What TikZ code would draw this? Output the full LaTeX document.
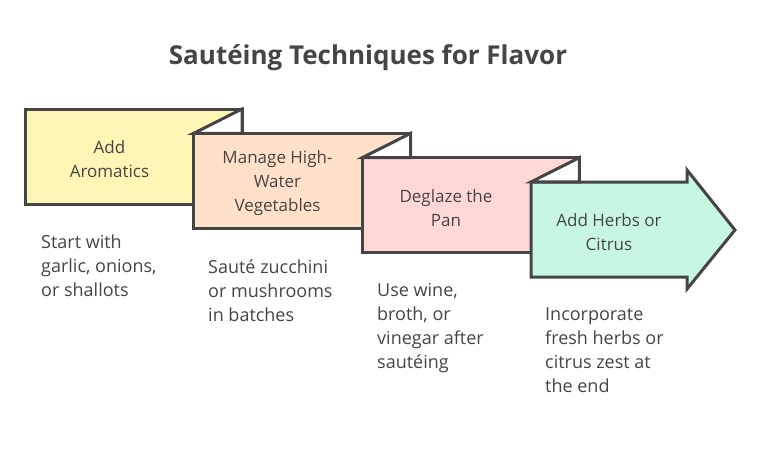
\documentclass[tikz,border=0pt]{standalone}
\usepackage{fontspec}
\setmainfont{Open Sans}
\definecolor{inkgray}{HTML}{454545}
\definecolor{aromafill}{HTML}{FFF6B5}
\definecolor{waterfill}{HTML}{FFE1C9}
\definecolor{glazefill}{HTML}{FFD7D5}
\definecolor{herbfill}{HTML}{C7F7E1}
\tikzset{
  stepbox/.style={draw=inkgray,line width=3pt,line join=miter},
  boxlabel/.style={align=center,text=inkgray,inner sep=0pt,font=\fontsize{17}{24}\selectfont},
  desclabel/.style={align=left,anchor=north west,text=inkgray,inner sep=0pt,font=\fontsize{18}{24}\selectfont}
}
\begin{document}
\begin{tikzpicture}[x=1pt,y=-1pt]
  \useasboundingbox (0,0) rectangle (761,448);
  % the three folded boxes
  \foreach \i/\col in {0/aromafill,1/waterfill,2/glazefill}{
    \pgfmathsetmacro{\L}{25+168.7*\i}
    \pgfmathsetmacro{\T}{109+24.3*\i}
    \filldraw[stepbox,fill=\col] (\L,\T) rectangle ++(217,95);
  }
  % last box with its arrow head
  \path
  (531,182) coordinate (H1)
  (687,182) coordinate (H2)
  (687,170) coordinate (H3)
  (735,230) coordinate (H4)
  (687,289) coordinate (H5)
  (687,277) coordinate (H6)
  (531,277) coordinate (H7);
  \filldraw[stepbox,fill=herbfill] (H1)--(H2)--(H3)--(H4)--(H5)--(H6)--(H7)--cycle;
  % folds
  \foreach \i in {0,1,2}{
    \pgfmathsetmacro{\R}{242+168.7*\i}
    \pgfmathsetmacro{\T}{109+24.3*\i}
    \pgfmathsetmacro{\Ln}{25+168.7*(\i+1)}
    \pgfmathsetmacro{\Tn}{109+24.3*(\i+1)}
    \filldraw[stepbox,fill=white] (\R,\T) -- (\R,\Tn) -- (\Ln,\Tn) -- cycle;
  }
  \node[font=\fontsize{26}{30}\selectfont\bfseries,text=inkgray] (title) at (368,58) {Sautéing Techniques for Flavor};
  \node[boxlabel] (aroma) at (109.5,159) {Add\\Aromatics};
  \node[boxlabel] (water) at (277.5,183) {Manage High-\\Water\\Vegetables};
  \node[boxlabel] (glaze) at (446,208) {Deglaze the\\Pan};
  \node[boxlabel] (herbs) at (609,232) {Add Herbs or\\Citrus};
  \node[desclabel] (aromatxt) at (41,235) {Start with\\garlic, onions,\\or shallots};
  \node[desclabel] (watertxt) at (208,260) {Sauté zucchini\\or mushrooms\\in batches};
  \node[desclabel] (glazetxt) at (377,283) {Use wine,\\broth, or\\vinegar after\\sautéing};
  \node[desclabel] (herbstxt) at (545,307) {Incorporate\\fresh herbs or\\citrus zest at\\the end};
\end{tikzpicture}
\end{document}
